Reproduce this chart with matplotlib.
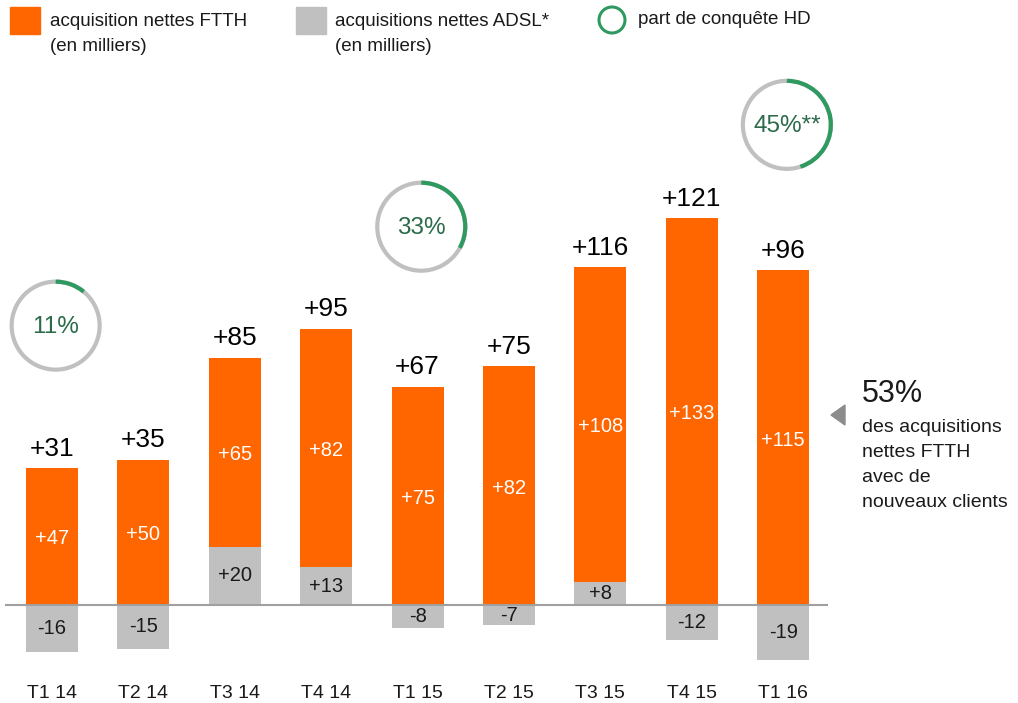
import matplotlib
matplotlib.use('Agg')
import matplotlib.pyplot as plt
from matplotlib.patches import Rectangle, Circle, Arc, Polygon

plt.rcParams['font.family'] = ['Liberation Sans', 'DejaVu Sans']

periods = ['T1 14', 'T2 14', 'T3 14', 'T4 14', 'T1 15', 'T2 15', 'T3 15', 'T4 15', 'T1 16']
ftth = [47, 50, 65, 82, 75, 82, 108, 133, 115]
adsl = [-16, -15, 20, 13, -8, -7, 8, -12, -19]
totals = [31, 35, 85, 95, 67, 75, 116, 121, 96]

# part de conquete HD: bar index, share (%), label
hd_idx = [0, 4, 8]
hd_share = [11, 33, 45]
hd_labels = ['11%', '33%', '45%**']

ORANGE = '#ff6600'
GREY = '#c0c0c0'
GREEN = '#2f9a60'
DKGREEN = '#2b6b4a'

fig = plt.figure(figsize=(10.18, 7.03), dpi=100)
ax = fig.add_axes([0, 0, 1, 1])
ax.axis('off')
ax.set_xlim(-52 / 91.4, (1018 - 52) / 91.4)
ax.set_ylim(-98 / 2.91, 605 / 2.91)

x = list(range(len(periods)))
bottoms = [max(a, 0) for a in adsl]
w = 0.57
ax.bar(x, adsl, width=w, color=GREY, zorder=2)
ax.bar(x, ftth, width=w, bottom=bottoms, color=ORANGE, zorder=2)
ax.hlines(0, -0.515, 8.49, color='#a0a0a0', lw=1.5, zorder=3)

for i in x:
    top = bottoms[i] + ftth[i]
    ax.text(i, top + 2.5, f'+{totals[i]}', ha='center', va='bottom',
            fontsize=19, color='black')
    ax.text(i, bottoms[i] + ftth[i] / 2 - 0.8, f'+{ftth[i]}', ha='center',
            va='center', fontsize=14.5, color='white')
    sign = '+' if adsl[i] > 0 else ''
    ax.text(i, adsl[i] / 2, f'{sign}{adsl[i]}', ha='center', va='center',
            fontsize=14.5, color='#1a1a1a')
    ax.text(i, -30.5, periods[i], ha='center', va='center', fontsize=14,
            color='#1a1a1a')

# overlay in pixel units
ov = fig.add_axes([0, 0, 1, 1])
ov.axis('off')
ov.set_xlim(0, 1018)
ov.set_ylim(703, 0)
ov.patch.set_alpha(0)

to_px = ov.transData.inverted()
hd_y = [96, 130, 165]
for k, i in enumerate(hd_idx):
    cx, cy = to_px.transform(ax.transData.transform((i + 0.04, hd_y[k])))
    ov.add_patch(Circle((cx, cy), 44, fill=False, ec=GREY, lw=3))
    ang = hd_share[k] * 3.6
    ov.add_patch(Arc((cx, cy), 88, 88, theta1=-90, theta2=-90 + ang,
                     color=GREEN, lw=3))
    ov.text(cx, cy + 1, hd_labels[k], ha='center', va='center',
            fontsize=17.5, color=DKGREEN)

# legend
ov.add_patch(Rectangle((10, 7), 30, 27, color=ORANGE))
ov.text(50, 34, 'acquisition nettes FTTH\n(en milliers)', ha='left',
        va='center', fontsize=13.5, linespacing=1.55, color='#1a1a1a')
ov.add_patch(Rectangle((296, 7), 30, 27, color=GREY))
ov.text(335, 34, 'acquisitions nettes ADSL*\n(en milliers)', ha='left',
        va='center', fontsize=13.5, linespacing=1.55, color='#1a1a1a')
ov.add_patch(Circle((612, 20), 13, fill=False, ec=GREEN, lw=2.2))
ov.text(638, 20, 'part de conquête HD', ha='left', va='center',
        fontsize=13.5, color='#1a1a1a')

# right annotation
ov.add_patch(Polygon([(831, 415), (845, 405), (845, 425)], color='#8c8c8c'))
ov.text(862, 394, '53%', ha='left', va='center', fontsize=22,
        color='#1a1a1a')
ov.text(862, 465, 'des acquisitions\nnettes FTTH\navec de\nnouveaux clients',
        ha='left', va='center', fontsize=14, linespacing=1.6,
        color='#1a1a1a')

fig.savefig('out.png', dpi=100)
